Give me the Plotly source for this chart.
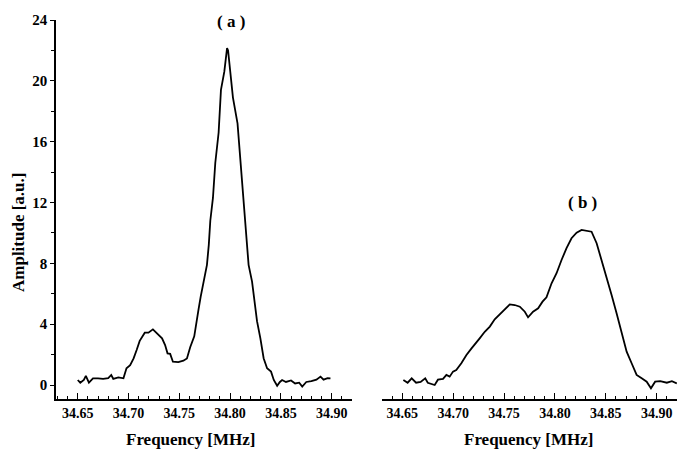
import plotly.graph_objects as go

freq_a = [34.650, 34.6525, 34.656, 34.658, 34.661, 34.665, 34.670, 34.675, 34.680, 34.683,
          34.685, 34.690, 34.695, 34.698, 34.7016, 34.705, 34.708, 34.711, 34.716, 34.7196,
          34.724, 34.728, 34.733, 34.736, 34.7384, 34.741, 34.7437, 34.749, 34.754, 34.7575,
          34.7607, 34.7647, 34.7665, 34.769, 34.771, 34.7739, 34.7772, 34.779, 34.7805, 34.7831,
          34.7854, 34.7887, 34.791, 34.7943, 34.797, 34.798, 34.8008, 34.8028, 34.8073, 34.8107,
          34.815, 34.8182, 34.8216, 34.8265, 34.8298, 34.833, 34.8364, 34.8403, 34.843, 34.8463,
          34.849, 34.8512, 34.855, 34.860, 34.864, 34.868, 34.871, 34.875, 34.880, 34.885,
          34.889, 34.892, 34.896, 34.8988]
amp_a = [0.33, 0.15, 0.33, 0.60, 0.15, 0.44, 0.44, 0.40, 0.45, 0.66,
         0.40, 0.50, 0.44, 1.10, 1.30, 1.75, 2.30, 2.90, 3.44, 3.44,
         3.66, 3.40, 3.07, 2.63, 2.08, 2.05, 1.53, 1.50, 1.60, 1.75,
         2.48, 3.20, 4.10, 5.00, 5.80, 6.70, 7.90, 9.20, 10.80, 12.30,
         14.60, 16.60, 19.40, 20.60, 22.15, 22.00, 20.30, 18.90, 17.20, 14.40,
         10.80, 7.90, 6.80, 4.20, 3.07, 1.76, 1.10, 0.88, 0.33, -0.05,
         0.20, 0.33, 0.20, 0.30, 0.10, 0.15, -0.10, 0.20, 0.25, 0.35,
         0.55, 0.35, 0.45, 0.44]

freq_b = [34.651, 34.6552, 34.6592, 34.6635, 34.668, 34.6725, 34.675, 34.6818, 34.685, 34.690,
          34.6933, 34.6965, 34.6998, 34.703, 34.708, 34.713, 34.718, 34.7228, 34.726, 34.731,
          34.736, 34.7408, 34.7458, 34.7507, 34.7556, 34.7605, 34.7655, 34.7704, 34.7736, 34.7785,
          34.7835, 34.7878, 34.7917, 34.7967, 34.8016, 34.8065, 34.8114, 34.8163, 34.8213, 34.8262,
          34.8311, 34.836, 34.841, 34.8459, 34.8508, 34.8557, 34.8606, 34.8656, 34.8705, 34.8754,
          34.8803, 34.8853, 34.8902, 34.8944, 34.8985, 34.9035, 34.9100, 34.9150, 34.9198]
amp_b = [0.33, 0.15, 0.44, 0.15, 0.20, 0.44, 0.15, 0.00, 0.35, 0.40,
         0.66, 0.55, 0.88, 0.99, 1.43, 1.97, 2.41, 2.78, 3.07, 3.50,
         3.84, 4.32, 4.67, 4.98, 5.30, 5.26, 5.15, 4.82, 4.45, 4.82,
         5.04, 5.48, 5.77, 6.69, 7.35, 8.22, 9.00, 9.65, 10.02, 10.20,
         10.15, 10.08, 9.32, 8.22, 7.13, 5.92, 4.72, 3.40, 2.19, 1.43,
         0.66, 0.44, 0.22, -0.22, 0.22, 0.25, 0.15, 0.25, 0.11]

y_ticks = [0, 4, 8, 12, 16, 20, 24]
x_ticks = [34.65, 34.70, 34.75, 34.80, 34.85, 34.90]
x_tick_labels = ["34.65", "34.70", "34.75", "34.80", "34.85", "34.90"]

W, H = 677, 449
FONT = "Liberation Serif, Times New Roman, serif"

fig = go.Figure()
fig.add_trace(go.Scatter(x=freq_a, y=amp_a, mode="lines", xaxis="x", yaxis="y",
                         line=dict(color="black", width=1.8), showlegend=False))
fig.add_trace(go.Scatter(x=freq_b, y=amp_b, mode="lines", xaxis="x2", yaxis="y2",
                         line=dict(color="black", width=1.8), showlegend=False))

def px_x(p):
    return p / W

def px_y(p):
    return 1 - p / H

xcommon = dict(
    showline=True, linecolor="black", linewidth=1.6, mirror=False, showgrid=False, zeroline=False,
    ticks="inside", ticklen=6, tickwidth=1.3, tickcolor="black",
    tickvals=x_ticks, ticktext=x_tick_labels, automargin=False, ticklabeloverflow="allow",
    tickfont=dict(family=FONT, size=14, color="black", weight="bold"),
    minor=dict(ticks="inside", ticklen=3, tickwidth=1.2, tickcolor="black", dtick=0.01, showgrid=False),
)

fig.update_layout(
    width=W, height=H,
    margin=dict(l=0, r=0, t=0, b=0),
    paper_bgcolor="white", plot_bgcolor="white",
    xaxis=dict(**xcommon, domain=[px_x(56), px_x(352)], range=[34.6286, 34.92], anchor="y"),
    xaxis2=dict(**xcommon, domain=[px_x(382), 1.0], range=[34.63, 34.92], anchor="y2"),
    yaxis=dict(domain=[px_y(399), px_y(20)], range=[-0.92, 24], anchor="x", automargin=False,
               showline=True, linecolor="black", linewidth=1.6, showgrid=False, zeroline=False,
               ticks="outside", ticklen=4, tickwidth=1.3, tickcolor="black",
               tickvals=y_ticks, ticklabelstandoff=0,
               tickfont=dict(family=FONT, size=15, color="black", weight="bold"),
               minor=dict(ticks="outside", ticklen=3, tickwidth=1.2, tickcolor="black", dtick=2, showgrid=False)),
    yaxis2=dict(domain=[px_y(399), px_y(20)], range=[-0.92, 24], anchor="x2", automargin=False,
                showline=False, showgrid=False, zeroline=False, showticklabels=False, ticks=""),
)

ann_font = dict(family=FONT, size=17, color="black")
fig.add_annotation(x=px_x(231), y=px_y(21), xref="paper", yref="paper", text="<b>( a )</b>",
                   showarrow=False, font=ann_font, xanchor="center", yanchor="middle")
fig.add_annotation(x=px_x(582), y=px_y(203), xref="paper", yref="paper", text="<b>( b )</b>",
                   showarrow=False, font=ann_font, xanchor="center", yanchor="middle")
fig.add_annotation(x=px_x(191), y=px_y(439), xref="paper", yref="paper", text="<b>Frequency [MHz]</b>",
                   showarrow=False, font=ann_font, xanchor="center", yanchor="middle")
fig.add_annotation(x=px_x(529), y=px_y(439), xref="paper", yref="paper", text="<b>Frequency [MHz]</b>",
                   showarrow=False, font=ann_font, xanchor="center", yanchor="middle")
fig.add_annotation(x=px_x(18), y=px_y(233), xref="paper", yref="paper", text="<b>Amplitude [a.u.]</b>",
                   showarrow=False, font=ann_font, textangle=-90, xanchor="center", yanchor="middle")

fig.write_html("out.html", config={"displayModeBar": False},
               post_script="document.body.style.margin='0';document.body.style.padding='0';document.body.style.overflow='hidden';")
